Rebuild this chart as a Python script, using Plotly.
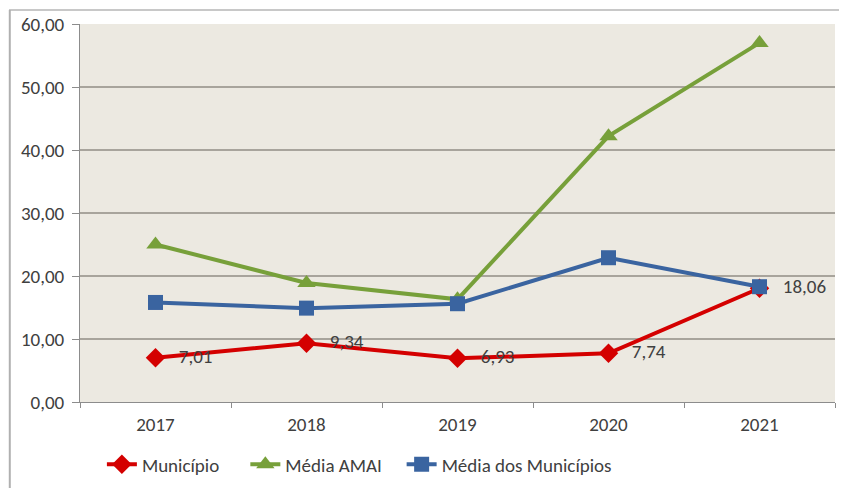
import plotly.graph_objects as go

years = ["2017", "2018", "2019", "2020", "2021"]
municipio = [7.01, 9.34, 6.93, 7.74, 18.06]
media_amai = [25.0, 18.9, 16.3, 42.2, 57.0]
media_municipios = [15.8, 14.9, 15.6, 22.9, 18.3]
municipio_labels = ["7,01", "9,34", "6,93", "7,74", "18,06"]

font_family = "Calibri, Lato, sans-serif"
fs = 19

fig = go.Figure()

fig.add_trace(go.Scatter(
    x=years, y=municipio, name="Município",
    mode="lines+markers+text", legend="legend",
    line=dict(color="#D40000", width=4),
    marker=dict(symbol="diamond", size=15, color="#D40000"),
    text=municipio_labels, texttemplate="   %{text}", textposition="middle right",
    textfont=dict(size=fs, color="#404040"),
    cliponaxis=False,
))
fig.add_trace(go.Scatter(
    x=years, y=media_amai, name="Média AMAI",
    mode="lines+markers", legend="legend2",
    line=dict(color="#77A03A", width=4),
    marker=dict(symbol="triangle-up", size=16, color="#77A03A"),
))
fig.add_trace(go.Scatter(
    x=years, y=media_municipios, name="Média dos Municípios",
    mode="lines+markers", legend="legend3",
    line=dict(color="#3A64A0", width=4),
    marker=dict(symbol="square", size=15, color="#3A64A0"),
))

# outer frame of the original image
fig.add_shape(type="line", xref="paper", yref="paper", x0=-0.094, x1=1.03, y0=1.037, y1=1.037,
              line=dict(color="#C8C8C8", width=2))
fig.add_shape(type="line", xref="paper", yref="paper", x0=-0.093, x1=-0.093, y0=-0.3, y1=1.037,
              line=dict(color="#B0B0B0", width=2))

leg = dict(orientation="h", y=-0.115, xanchor="left", yanchor="top",
           font=dict(size=fs, color="#404040"), bgcolor="rgba(0,0,0,0)")

fig.update_layout(
    width=847, height=488,
    paper_bgcolor="white",
    plot_bgcolor="#ECE9E1",
    font=dict(family=font_family, size=fs, color="#404040"),
    margin=dict(l=72, r=20, t=16, b=94, autoexpand=False),
    showlegend=True,
    legend=dict(leg, x=0.029),
    legend2=dict(leg, x=0.219),
    legend3=dict(leg, x=0.426),
    xaxis=dict(
        type="category", range=[-0.5, 4.5], showgrid=False, showline=True, linecolor="#8C8C8C",
        ticks="outside", tickson="boundaries", ticklen=5, tickcolor="#8C8C8C",
        ticklabelstandoff=5,
        tickfont=dict(size=fs, color="#404040"), automargin=False,
    ),
    yaxis=dict(
        range=[0, 60], dtick=10, tickformat=".2f",
        showgrid=True, gridcolor="#A8A49C", gridwidth=1.5,
        showline=True, linecolor="#8C8C8C", ticks="outside", ticklen=7, tickcolor="#8C8C8C",
        ticklabelstandoff=4,
        tickfont=dict(size=fs, color="#404040"), zeroline=False, automargin=False,
    ),
    separators=",.",
)

fig.write_html("out.html")
